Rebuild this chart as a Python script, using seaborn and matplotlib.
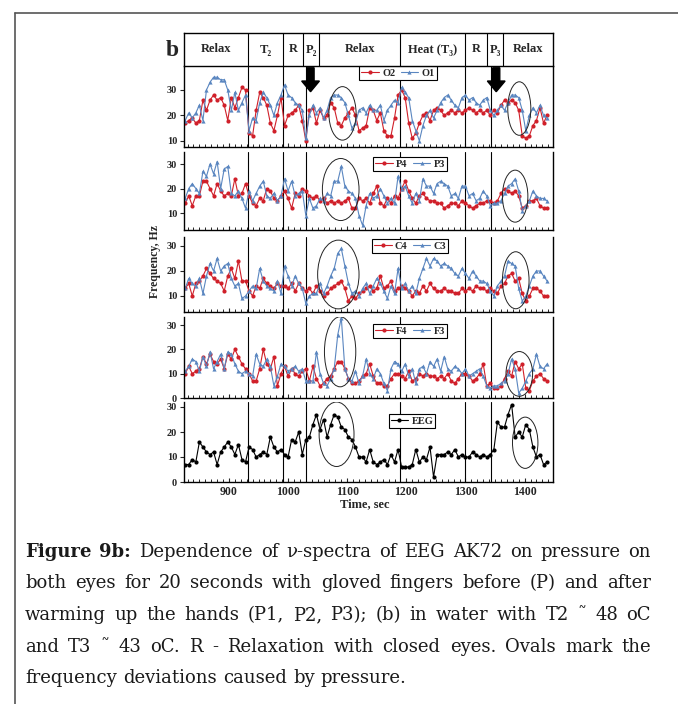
import numpy as np
import pandas as pd
import matplotlib
matplotlib.use("Agg")
import matplotlib.pyplot as plt
import seaborn as sns
from matplotlib.patches import Ellipse, FancyArrow
from matplotlib.lines import Line2D
from matplotlib.ticker import MultipleLocator

# ---------------- data ----------------
time = np.arange(826, 1439, 6)  # sampling grid, seconds

O2 = [17, 18, 19, 17, 18, 26, 22, 26, 28, 26, 27, 24, 18, 27, 23, 27, 31, 30,
      13, 12, 22, 29, 27, 24, 17, 14, 20, 27,
      16, 20, 21, 22, 24, 18, 10,
      22, 23, 17, 22, 19, 20, 25, 23, 17, 16, 19, 21, 23, 20, 14, 15, 16, 23, 22, 18, 21, 14, 12, 12, 19, 28,
      30, 27, 17, 11, 13, 17, 20, 21, 18, 22, 23, 22, 20, 21, 22, 21, 22, 21,
      22, 23, 22, 21, 22, 21, 22, 20,
      22, 21, 24, 26, 25, 26, 25, 22, 12, 11, 12, 16, 18, 23, 17, 20]
O1 = [18, 21, 19, 21, 24, 18, 30, 33, 35, 35, 34, 34, 30, 22, 29, 22, 25, 28,
      14, 19, 18, 25, 29, 27, 24, 20, 25, 28,
      32, 28, 27, 25, 24, 22, 11,
      20, 24, 21, 23, 19, 22, 27, 28, 28, 27, 25, 20, 15, 17, 22, 23, 21, 24, 22, 22, 24, 18, 22, 24, 26, 25,
      31, 29, 27, 18, 14, 10, 16, 20, 22, 19, 22, 25, 27, 28, 26, 24, 23, 27,
      28, 26, 27, 25, 24, 26, 27, 22,
      20, 22, 24, 22, 25, 28, 28, 27, 22, 14, 20, 23, 21, 24, 20, 19]
P4 = [14, 17, 13, 17, 17, 23, 23, 20, 17, 22, 19, 17, 18, 17, 24, 17, 18, 22,
      17, 14, 13, 16, 15, 20, 19, 16, 15, 17,
      19, 16, 12, 18, 17, 20, 19,
      17, 16, 17, 15, 16, 14, 15, 14, 15, 14, 15, 16, 12, 12, 16, 15, 16, 14, 18, 21, 14, 13, 16, 14, 17, 16,
      20, 23, 19, 16, 14, 17, 18, 16, 15, 15, 14, 14, 12, 13, 14, 14, 13, 15,
      14, 13, 12, 13, 14, 14, 15, 15,
      14, 15, 18, 20, 19, 18, 19, 17, 12, 13, 15, 15, 16, 13, 12, 12]
P3 = [16, 20, 22, 20, 18, 27, 25, 30, 26, 31, 20, 28, 29, 18, 17, 19, 16, 12,
      19, 15, 18, 21, 23, 17, 16, 18, 15, 17,
      24, 19, 23, 17, 18, 19, 9,
      16, 12, 13, 16, 15, 18, 17, 23, 23, 29, 21, 19, 18, 16, 9, 5, 13, 18, 16, 17, 20, 17, 14, 16, 14, 25,
      20, 21, 17, 14, 18, 15, 24, 21, 21, 18, 22, 23, 22, 21, 17, 18, 16, 21,
      21, 17, 18, 15, 16, 19, 17, 13,
      14, 14, 15, 18, 21, 22, 24, 19, 11, 13, 15, 19, 17, 16, 16, 15]
C4 = [13, 15, 10, 15, 16, 18, 21, 19, 17, 16, 15, 12, 18, 21, 17, 24, 16, 16,
      12, 10, 14, 13, 17, 15, 14, 13, 15, 14,
      14, 13, 15, 12, 15, 13, 12,
      13, 11, 14, 12, 10, 11, 13, 14, 15, 16, 13, 8, 10, 9, 11, 12, 13, 14, 12, 13, 18, 13, 14, 16, 12, 13,
      14, 13, 12, 10, 12, 11, 14, 12, 15, 13, 12, 12, 13, 12, 12, 11, 11, 13,
      12, 13, 12, 14, 13, 13, 12, 13,
      12, 11, 14, 15, 18, 19, 16, 17, 11, 8, 10, 13, 13, 12, 10, 10]
C3 = [13, 17, 15, 14, 17, 11, 18, 23, 20, 25, 20, 22, 23, 17, 14, 15, 9, 10,
      12, 14, 13, 21, 16, 14, 13, 12, 16, 11,
      22, 18, 14, 18, 15, 13, 7,
      10, 11, 11, 15, 11, 14, 18, 21, 27, 29, 22, 15, 11, 12, 10, 13, 15, 11, 14, 17, 15, 12, 9, 14, 11, 21,
      13, 15, 12, 14, 11, 17, 21, 25, 22, 25, 24, 22, 23, 22, 21, 19, 18, 21,
      19, 17, 20, 18, 16, 16, 15, 12,
      10, 14, 16, 18, 24, 23, 22, 13, 8, 10, 14, 18, 20, 20, 18, 16]
F4 = [10, 13, 10, 11, 12, 17, 14, 18, 15, 14, 16, 12, 18, 16, 20, 17, 14, 12,
      10, 7, 7, 12, 20, 14, 12, 17, 5, 10,
      13, 9, 12, 10, 9, 11, 12,
      7, 13, 8, 5, 6, 8, 9, 12, 15, 15, 12, 8, 6, 6, 7, 9, 10, 14, 9, 6, 6, 5, 5, 8, 10, 10,
      9, 8, 11, 7, 8, 10, 9, 10, 9, 9, 8, 9, 8, 10, 7, 6, 8, 10,
      10, 9, 7, 8, 10, 14, 5, 6,
      4, 4, 5, 8, 11, 9, 15, 12, 14, 4, 3, 7, 9, 10, 8, 7]
F3 = [11, 13, 16, 15, 11, 17, 13, 19, 12, 15, 18, 12, 19, 18, 14, 11, 10, 11,
      10, 9, 18, 14, 13, 16, 13, 5, 9, 14,
      13, 11, 12, 13, 11, 12, 7,
      7, 7, 19, 10, 6, 5, 8, 12, 26, 33, 12, 8, 7, 11, 6, 9, 16, 10, 8, 12, 10, 6, 3, 12, 15, 14,
      11, 14, 9, 12, 6, 12, 13, 10, 15, 13, 16, 11, 17, 12, 11, 13, 12, 10,
      12, 9, 10, 11, 12, 9, 5, 4,
      5, 5, 6, 7, 10, 16, 12, 2, 4, 7, 10, 12, 18, 13, 12, 14]
EEG = [7, 7, 9, 8, 16, 14, 12, 11, 12, 7, 12, 14, 16, 14, 11, 15, 9, 8,
       14, 13, 10, 11, 12, 11, 18, 14, 12, 13,
       11, 10, 17, 16, 20, 11, 17,
       18, 23, 27, 21, 25, 18, 23, 27, 26, 22, 21, 18, 17, 14, 10, 10, 8, 13, 8, 7, 8, 9, 7, 11, 8, 13,
       6, 6, 6, 7, 13, 8, 10, 9, 14, 2, 11, 11, 11, 12, 11, 13, 10, 11,
       10, 10, 12, 11, 10, 11, 10, 11,
       13, 24, 22, 22, 27, 31, 18, 20, 18, 23, 21, 14, 10, 11, 7, 8]

phase_labels = ["Relax", "T₂", "R", "P₂", "Relax", "Heat (T₃)", "R", "P₃", "Relax"]
phase_bounds = [824, 933, 992, 1025, 1053, 1189, 1300, 1337, 1364, 1448]
event_lines = [932, 992, 1031, 1190, 1300, 1343]
arrow_times = [1038, 1352]

caption_lines = [
    "Figure 9b: Dependence of ν-spectra of EEG AK72 on pressure on",
    "both eyes for 20 seconds with gloved fingers before (P) and after",
    "warming up the hands (P1, P2, P3); (b) in water with T2 ˜ 48 oC",
    "and T3 ˜ 43 oC. R - Relaxation with closed eyes. Ovals mark the",
    "frequency deviations caused by pressure.",
]

# ---------------- style ----------------
sns.set_style("white")
SERIF = ["Liberation Serif", "DejaVu Serif"]
plt.rcParams["font.family"] = SERIF
plt.rcParams["font.weight"] = "bold"

RED = "#D0202A"
BLUE = "#5A86C0"
W, H = 678, 704
XL, XR = 184, 553
XLIM = (824, 1448)

fig = plt.figure(figsize=(W / 100, H / 100), dpi=100)


def rect(l, t, r, b):
    return [l / W, 1 - b / H, (r - l) / W, (b - t) / H]


panels = [
    dict(top=66, bot=147, ylim=(7.6, 39.4), yticks=[10, 20, 30],
         series=[("O2", O2, RED, "o"), ("O1", O1, BLUE, "^")], leg=(398, 73),
         ovals=[(1092, 20.8, 46, 21), (1391, 22.7, 39, 21)]),
    dict(top=152, bot=230, ylim=(3.1, 34.9), yticks=[10, 20, 30],
         series=[("P4", P4, RED, "o"), ("P3", P3, BLUE, "^")], leg=(410, 164),
         ovals=[(1089, 19.6, 62, 25.3), (1384, 16.9, 43, 21.2)]),
    dict(top=237, bot=312, ylim=(3.6, 33.6), yticks=[10, 20, 30],
         series=[("C4", C4, RED, "o"), ("C3", C3, BLUE, "^")], leg=(410, 246),
         ovals=[(1085, 18.6, 70, 27.5), (1385, 16.3, 45, 22.8)]),
    dict(top=317, bot=398, ylim=(0, 33.3), yticks=[0, 10, 20, 30],
         series=[("F4", F4, RED, "o"), ("F3", F3, BLUE, "^")], leg=(410, 331),
         ovals=[(1088, 19.0, 53, 28.8), (1391, 9.9, 45, 18.4)]),
    dict(top=402, bot=482, ylim=(0, 32), yticks=[0, 10, 20, 30],
         series=[("EEG", EEG, "black", "o")], leg=(412, 421),
         ovals=[(1082, 19.1, 59, 25.8), (1401, 15.7, 43, 20.5)]),
]

axes = []
for k, p in enumerate(panels):
    ax = fig.add_axes(rect(XL, p["top"], XR, p["bot"]))
    names = [s[0] for s in p["series"]]
    df = pd.DataFrame({
        "Time": np.concatenate([time for _ in p["series"]]),
        "Freq": np.concatenate([np.asarray(s[1], float) for s in p["series"]]),
        "ch": np.concatenate([[s[0]] * len(time) for s in p["series"]]),
    })
    sns.lineplot(data=df, x="Time", y="Freq", hue="ch", style="ch",
                 hue_order=names, style_order=names,
                 palette=[s[2] for s in p["series"]],
                 markers=[s[3] for s in p["series"]], dashes=False,
                 lw=0.8, markersize=3, markeredgewidth=0,
                 errorbar=None, legend=False, ax=ax)
    ax.set_xlim(XLIM)
    ax.set_ylim(p["ylim"])
    ax.set_yticks(p["yticks"])
    ax.set_xlabel("")
    ax.set_ylabel("")
    ax.xaxis.set_major_locator(MultipleLocator(100))
    ax.xaxis.set_minor_locator(MultipleLocator(10))
    ax.tick_params(axis="x", which="major", direction="in", length=3, width=0.8,
                   bottom=True, top=False, labelsize=8.5, pad=3)
    ax.tick_params(axis="x", which="minor", direction="in", length=2, width=0.7,
                   bottom=True, top=False)
    ax.tick_params(axis="y", direction="out", length=3, width=0.8, left=True,
                   labelsize=7.5, pad=2)
    if k < len(panels) - 1:
        ax.tick_params(axis="x", which="both", labelbottom=False)
    for s in ["left", "bottom", "right"]:
        ax.spines[s].set_visible(True)
        ax.spines[s].set_color("black")
        ax.spines[s].set_linewidth(1.0)
    ax.spines["top"].set_visible(False)
    for t in event_lines:
        ax.axvline(t, color="black", lw=0.8, zorder=1)
    for (cx, cy, w, h) in p["ovals"]:
        ax.add_patch(Ellipse((cx, cy), w, h, fill=False, ec="#222222", lw=0.7, zorder=5))
    handles = [Line2D([], [], color=s[2], marker=s[3], markersize=3, lw=0.8,
                      markeredgewidth=0, label=s[0]) for s in p["series"]]
    lx = (p["leg"][0] - XL) / (XR - XL)
    ly = (p["bot"] - p["leg"][1]) / (p["bot"] - p["top"])
    leg = ax.legend(handles=handles, loc="center", bbox_to_anchor=(lx, ly),
                    ncol=len(handles), frameon=True, fancybox=False,
                    edgecolor="black", framealpha=1, borderpad=0.2,
                    handlelength=1.7, handletextpad=0.3, columnspacing=0.5,
                    borderaxespad=0, prop={"size": 7.5, "weight": "bold"})
    leg.get_frame().set_linewidth(0.8)
    axes.append(ax)

# arrows in the top panel
for t in arrow_times:
    axes[0].add_patch(FancyArrow(t, 38.7, 0, -9.4, width=12, head_width=30,
                                 head_length=4.2, length_includes_head=True,
                                 color="black", clip_on=False, zorder=6))

# header row of phases
hax = fig.add_axes(rect(XL, 33, XR, 66))
hax.set_xlim(XLIM)
hax.set_ylim(0, 1)
hax.set_xticks([])
hax.set_yticks([])
for s in hax.spines.values():
    s.set_visible(True)
    s.set_color("black")
    s.set_linewidth(1.0)
for b in phase_bounds[1:-1]:
    hax.axvline(b, color="black", lw=0.8)
for lab, a, b in zip(phase_labels, phase_bounds[:-1], phase_bounds[1:]):
    hax.text((a + b) / 2, 0.5, lab, ha="center", va="center", fontsize=9,
             fontweight="bold")

fig.text(172 / W, 1 - 50 / H, "b", ha="center", va="center", fontsize=17,
         fontweight="bold")
fig.text(155 / W, 1 - 262 / H, "Frequency, Hz", rotation=90, ha="center",
         va="center", fontsize=8.5, fontweight="bold")
fig.text(365 / W, 1 - 504 / H, "Time, sec", ha="center", va="center",
         fontsize=9, fontweight="bold")

# outer frame (top and left border)
fig.add_artist(Line2D([15 / W, 1.0], [1 - 13 / H, 1 - 13 / H],
                      transform=fig.transFigure, color="#555555", lw=1.2))
fig.add_artist(Line2D([15 / W, 15 / W], [1 - 13 / H, 0.0],
                      transform=fig.transFigure, color="#555555", lw=1.2))

# caption, justified
renderer = fig.canvas.get_renderer()
x0, x1 = 25, 651
baselines = [557, 588, 620, 652, 683]
CAP_FONT = ["DejaVu Serif"]
CAP_SIZE = 13
for li, (line, yb) in enumerate(zip(caption_lines, baselines)):
    words = line.split(" ")
    texts = []
    for wi, w in enumerate(words):
        bold = (li == 0 and wi < 2)
        t = fig.text(0, 1 - yb / H, w, ha="left", va="baseline", fontsize=CAP_SIZE,
                     family=CAP_FONT, fontweight="bold" if bold else "normal",
                     color="#1a1a1a")
        texts.append(t)
    widths = [t.get_window_extent(renderer).width for t in texts]
    if li < len(caption_lines) - 1:
        gap = (x1 - x0 - sum(widths)) / (len(words) - 1)
    else:
        sp = fig.text(0, 0, "a a", fontsize=CAP_SIZE, family=CAP_FONT)
        sp2 = fig.text(0, 0, "aa", fontsize=CAP_SIZE, family=CAP_FONT)
        gap = sp.get_window_extent(renderer).width - sp2.get_window_extent(renderer).width
        sp.remove()
        sp2.remove()
    x = x0
    for t, w in zip(texts, widths):
        t.set_x(x / W)
        x += w + gap

fig.savefig("out.png", dpi=100)
